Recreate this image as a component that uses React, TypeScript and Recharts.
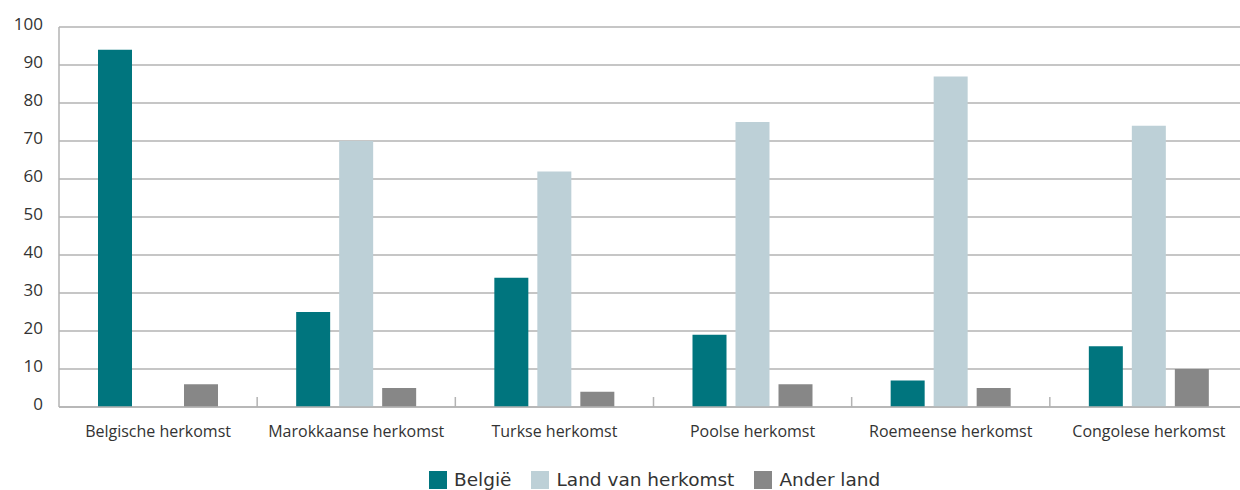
import React from "react";
import { Bar, BarChart, CartesianGrid, Legend, XAxis, YAxis } from "recharts";

const categories = [
  "Belgische herkomst",
  "Marokkaanse herkomst",
  "Turkse herkomst",
  "Poolse herkomst",
  "Roemeense herkomst",
  "Congolese herkomst"
];
const belgie = [94, 25, 34, 19, 7, 16];
const landVanHerkomst = [null, 70, 62, 75, 87, 74];
const anderLand = [6, 5, 4, 6, 5, 10];
const yTicks = [0, 10, 20, 30, 40, 50, 60, 70, 80, 90, 100];

const series = [
  { key: "belgie", name: "België", color: "#00757E" },
  { key: "land", name: "Land van herkomst", color: "#BDD0D7" },
  { key: "ander", name: "Ander land", color: "#878787" }
];

const data = categories.map((cat, i) => ({
  cat,
  belgie: belgie[i],
  land: landVanHerkomst[i],
  ander: anderLand[i]
}));

const gridColor = "#b3b3b3";

function CategoryTick(props: any) {
  const { x, y, payload } = props;
  const half = payload && typeof payload.offset === "number" ? payload.offset : 99;
  return (
    <g>
      {payload.index > 0 && (
        <line x1={x - half} x2={x - half} y1={y - 10} y2={y} stroke={gridColor} strokeWidth={1.5} />
      )}
      <text
        x={x}
        y={y + 30}
        textAnchor="middle"
        fill="#333"
        style={{ fontFamily: "'Open Sans', sans-serif", fontSize: 16 }}
      >
        {payload.value}
      </text>
    </g>
  );
}

function LegendContent() {
  return (
    <div
      style={{
        display: "flex",
        alignItems: "center",
        paddingLeft: 429,
        paddingTop: 22,
        fontFamily: "'DejaVu Sans', sans-serif",
        fontSize: 18.5,
        color: "#333"
      }}
    >
      {series.map((s) => (
        <div key={s.key} style={{ display: "flex", alignItems: "center", marginRight: 20 }}>
          <span style={{ width: 18, height: 18, background: s.color, marginRight: 7, display: "inline-block" }} />
          <span style={{ lineHeight: "18px" }}>{s.name}</span>
        </div>
      ))}
    </div>
  );
}

export default function App() {
  return (
    <div
      style={{
        position: "fixed",
        left: 0,
        top: 0,
        width: 1240,
        height: 490,
        overflow: "hidden",
        background: "#fff"
      }}
    >
      <BarChart
        width={1250}
        height={490}
        data={data}
        margin={{ top: 27, right: 2, left: 0, bottom: 0 }}
        barSize={34}
        barGap={9}
      >
        <CartesianGrid vertical={false} stroke={gridColor} strokeWidth={1.5} />
        <XAxis
          dataKey="cat"
          height={42}
          tickSize={0}
          tickMargin={0}
          axisLine={{ stroke: gridColor, strokeWidth: 1.5 }}
          tickLine={false}
          tick={<CategoryTick />}
          interval={0}
        />
        <YAxis
          width={59}
          domain={[0, 100]}
          ticks={yTicks}
          tickSize={0}
          tickMargin={16}
          axisLine={{ stroke: gridColor, strokeWidth: 1.5 }}
          tickLine={false}
          tick={{ fill: "#333", fontSize: 17, fontFamily: "'Open Sans', sans-serif", dy: -3 }}
        />
        <Legend
          verticalAlign="bottom"
          height={41}
          wrapperStyle={{ left: 0, width: 1250 }}
          content={<LegendContent />}
        />
        {series.map((s) => (
          <Bar key={s.key} dataKey={s.key} name={s.name} fill={s.color} isAnimationActive={false} />
        ))}
      </BarChart>
    </div>
  );
}
